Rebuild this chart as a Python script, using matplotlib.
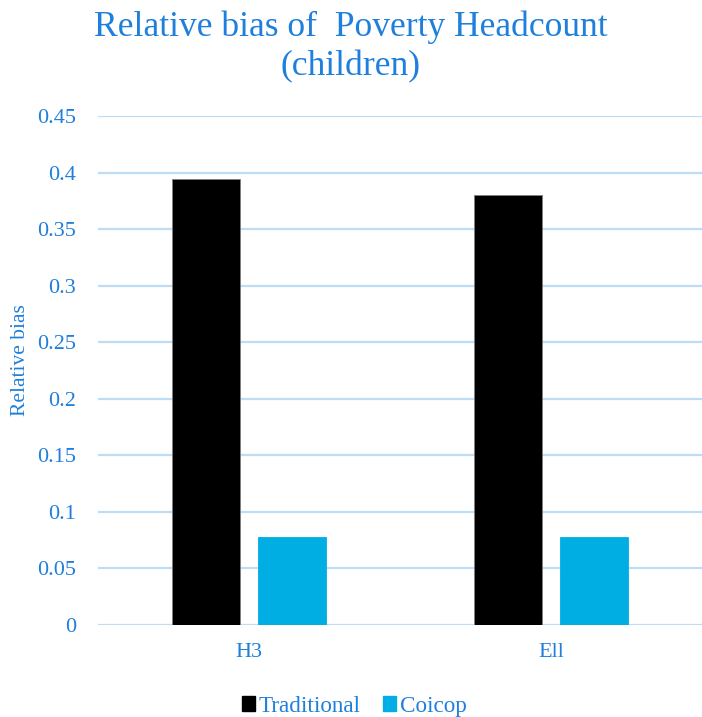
import matplotlib
matplotlib.use("Agg")
import matplotlib.pyplot as plt
import numpy as np
from matplotlib.patches import Patch

categories = ["H3", "Ell"]
traditional = [0.394, 0.380]
coicop = [0.078, 0.078]
yticks = [0, 0.05, 0.1, 0.15, 0.2, 0.25, 0.3, 0.35, 0.4, 0.45]
ytick_labels = ["0", "0.05", "0.1", "0.15", "0.2", "0.25", "0.3", "0.35", "0.4", "0.45"]

text_blue = "#1E7FDC"
grid_blue = "#BDDCF5"
black = "#000000"
cyan = "#00AEE4"

plt.rcParams["font.family"] = ["Liberation Serif", "DejaVu Serif"]

fig = plt.figure(figsize=(7.02, 7.17), dpi=100)
ax = fig.add_axes([0.1396, 0.1283, 0.8604, 0.7099])

x = np.arange(len(categories))
width = 0.225
offset = 0.142
ax.bar(x - offset, traditional, width, color=black, edgecolor="#7F7F7F", linewidth=0.6, zorder=3)
ax.bar(x + offset, coicop, width, color=cyan, edgecolor=cyan, linewidth=0.6, zorder=3)

ax.set_xlim(-0.5, 1.5)
ax.set_ylim(0, 0.45)
ax.set_yticks(yticks)
ax.set_yticklabels(ytick_labels)
ax.set_xticks(x)
ax.set_xticklabels(categories)

for y in yticks:
    ax.axhline(y, color=grid_blue, linewidth=1.6, zorder=1)

for s in ax.spines.values():
    s.set_visible(False)
ax.tick_params(axis="both", length=0, labelsize=16, colors=text_blue)
ax.tick_params(axis="y", pad=16)
ax.tick_params(axis="x", pad=13)

ax.set_ylabel("Relative bias", fontsize=15.5, color=text_blue)
ax.yaxis.set_label_coords(-0.112, 0.52)

fig.text(0.5, 0.986, "Relative bias of  Poverty Headcount\n(children)",
         ha="center", va="top", fontsize=25.6, color=text_blue, linespacing=1.25)

handles = [Patch(facecolor=black, edgecolor=black), Patch(facecolor=cyan, edgecolor=cyan)]
fig.legend(handles, ["Traditional", "Coicop"], loc="center", bbox_to_anchor=(0.5045, 0.015),
           ncol=2, frameon=False, fontsize=16.7, labelcolor=text_blue,
           handlelength=0.56, handleheight=0.56, handletextpad=0.18, columnspacing=0.95)

fig.savefig("out.png", dpi=100)
